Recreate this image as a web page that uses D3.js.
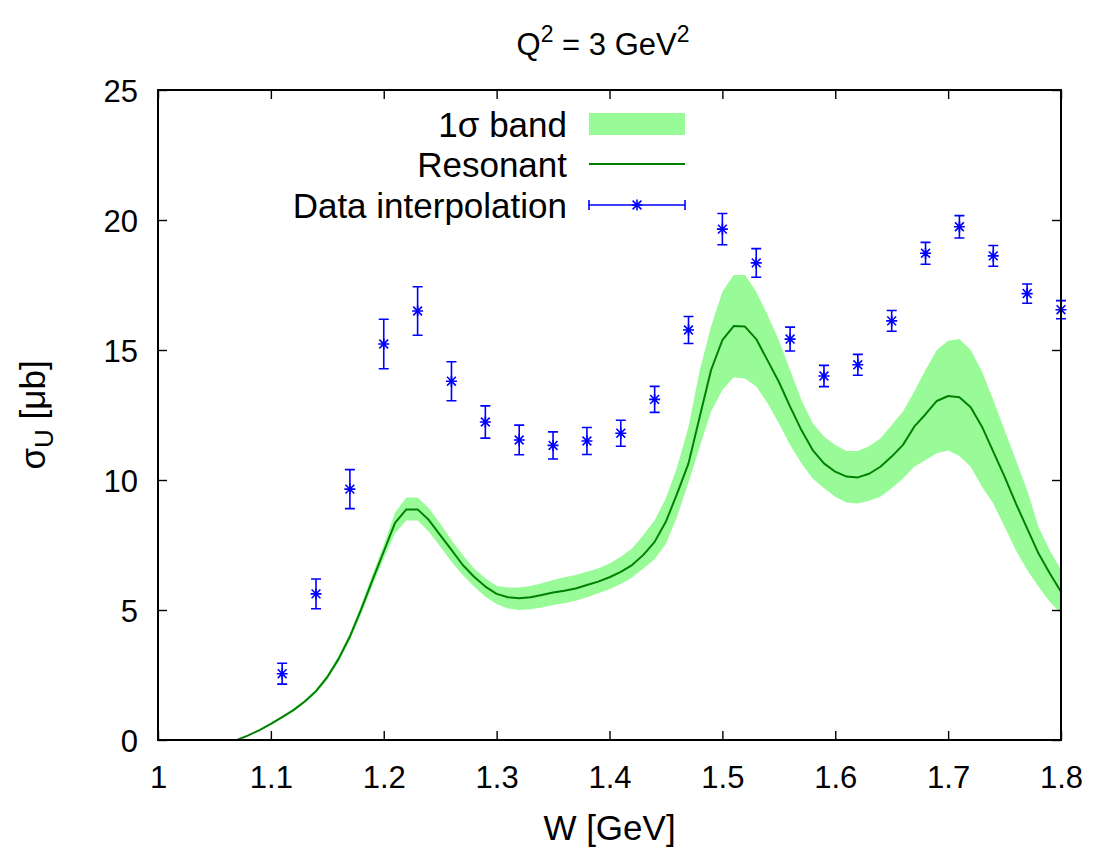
<!DOCTYPE html>
<html><head><meta charset="utf-8">
<script src="https://cdn.jsdelivr.net/npm/d3@7"></script>
<style>
body{margin:0;background:#fff}
svg{display:block}
text{font-family:"Liberation Sans",Arial,Helvetica,sans-serif;fill:#000}
</style>
</head><body>
<svg id="chart" width="1093" height="852"></svg>
<script>
// ---------------- data ----------------
const xTicks = [1, 1.1, 1.2, 1.3, 1.4, 1.5, 1.6, 1.7, 1.8];
const yTicks = [0, 5, 10, 15, 20, 25];
const legendLabels = ["1σ band", "Resonant", "Data interpolation"];

const curveW = [1.07,1.08,1.09,1.10,1.11,1.12,1.13,1.14,1.15,1.16,1.17,1.18,1.19,1.20,
  1.21,1.22,1.23,1.24,1.25,1.26,1.27,1.28,1.29,1.30,1.31,1.32,1.33,1.34,1.35,1.36,1.37,
  1.38,1.39,1.40,1.41,1.42,1.43,1.44,1.45,1.46,1.47,1.48,1.49,1.50,1.51,1.52,1.53,1.54,
  1.55,1.56,1.57,1.58,1.59,1.60,1.61,1.62,1.63,1.64,1.65,1.66,1.67,1.68,1.69,1.70,1.71,
  1.72,1.73,1.74,1.75,1.76,1.77,1.78,1.79,1.80];
const resonant = [0.00,0.18,0.38,0.62,0.88,1.15,1.48,1.88,2.42,3.12,3.98,5.02,6.15,7.25,
  8.35,8.87,8.87,8.46,7.88,7.31,6.73,6.28,5.90,5.62,5.49,5.45,5.49,5.58,5.67,5.74,5.83,
  5.96,6.09,6.26,6.47,6.73,7.12,7.62,8.40,9.49,10.64,12.44,14.23,15.38,15.92,15.90,15.42,14.60,
  13.78,12.82,11.92,11.15,10.64,10.32,10.13,10.10,10.24,10.51,10.90,11.35,12.05,12.53,13.04,13.23,13.18,
  12.80,12.05,11.09,10.13,9.10,8.14,7.18,6.41,5.70];
const bandLow = [0.00,0.17,0.36,0.59,0.84,1.10,1.42,1.81,2.33,3.01,3.85,4.85,5.93,6.98,
  7.95,8.44,8.44,8.01,7.44,6.86,6.35,5.90,5.51,5.23,5.06,5.00,5.03,5.10,5.19,5.26,5.36,
  5.49,5.64,5.80,6.00,6.25,6.60,6.95,7.55,8.60,9.90,11.28,12.63,13.46,13.95,13.90,13.60,12.95,
  12.18,11.35,10.64,10.06,9.68,9.36,9.13,9.10,9.20,9.36,9.68,10.06,10.51,10.77,11.03,11.13,10.92,
  10.51,9.74,9.10,8.20,7.30,6.54,5.90,5.32,4.87];
const bandHigh = [0.00,0.19,0.40,0.65,0.92,1.20,1.54,1.95,2.51,3.23,4.11,5.19,6.37,7.50,
  8.75,9.33,9.33,8.91,8.33,7.69,7.12,6.60,6.22,5.92,5.87,5.87,5.92,6.03,6.15,6.26,6.35,
  6.47,6.60,6.79,7.05,7.37,7.88,8.45,9.30,10.51,12.05,14.23,15.90,17.24,17.88,17.88,17.24,16.35,
  15.38,14.23,13.08,12.18,11.67,11.35,11.12,11.12,11.30,11.60,12.12,12.63,13.40,14.23,15.00,15.36,15.42,
  15.00,14.17,13.08,11.92,10.77,9.62,8.20,7.30,6.54];

const dataW = [1.11,1.14,1.17,1.20,1.23,1.26,1.29,1.32,1.35,1.38,1.41,1.44,
  1.47,1.50,1.53,1.56,1.59,1.62,1.65,1.68,1.71,1.74,1.77,1.80];
const dataSigma = [2.55,5.62,9.65,15.23,16.50,13.80,12.23,11.54,11.33,11.50,11.80,13.10,
  15.77,19.65,18.35,15.42,14.00,14.43,16.12,18.72,19.74,18.62,17.17,16.55];
const dataErr = [0.40,0.57,0.75,0.95,0.93,0.75,0.62,0.57,0.52,0.52,0.50,0.50,
  0.52,0.60,0.55,0.46,0.41,0.40,0.40,0.42,0.43,0.40,0.37,0.35];

// ---------------- chart ----------------
const svg = d3.select("#chart");
const pL = 158, pR = 1061, pT = 90, pB = 740;
const x = d3.scaleLinear().domain([1, 1.8]).range([pL, pR]);
const y = d3.scaleLinear().domain([0, 25]).range([pB, pT]);

const BAND = "#98fb98", LINE = "#008000", BLUE = "#0000ff";

// band
const curvePts = curveW.map((w, i) => ({w, r: resonant[i], lo: bandLow[i], hi: bandHigh[i]}));
svg.append("path").datum(curvePts)
  .attr("fill", BAND).attr("stroke", "none")
  .attr("d", d3.area().x(d => x(d.w)).y0(d => y(d.lo)).y1(d => y(d.hi)));

// resonant line
svg.append("path").datum(curvePts)
  .attr("fill", "none").attr("stroke", LINE).attr("stroke-width", 2)
  .attr("stroke-linejoin", "round")
  .attr("d", d3.line().x(d => x(d.w)).y(d => y(d.r)));

// star marker path generator
function star(cx, cy, s) {
  const d = s * 0.8;
  return `M${cx - s},${cy}H${cx + s}M${cx},${cy - s}V${cy + s}` +
         `M${cx - d},${cy - d}L${cx + d},${cy + d}M${cx - d},${cy + d}L${cx + d},${cy - d}`;
}

// data with error bars
const pts = dataW.map((w, i) => ({w, v: dataSigma[i], e: dataErr[i]}));
const g = svg.append("g").attr("stroke", BLUE).attr("stroke-width", 1.6).attr("fill", "none");
pts.forEach(p => {
  const cx = x(p.w), y1 = y(p.v + p.e), y0 = y(p.v - p.e), cap = 5;
  g.append("path").attr("d",
    `M${cx},${y0}V${y1}M${cx - cap},${y0}H${cx + cap}M${cx - cap},${y1}H${cx + cap}`);
  g.append("path").attr("d", star(cx, y(p.v), 5.5));
});

// axes (ticks inward, mirrored)
const tickStyle = sel => {
  sel.select(".domain").remove();
  sel.selectAll(".tick line").attr("stroke", "#000").attr("stroke-width", 1.4);
};
const fmtX = d => d3.format(".1~f")(d);

const ax = svg.append("g").attr("transform", `translate(0,${pB})`)
  .call(d3.axisBottom(x).tickValues(xTicks).tickSize(-9).tickPadding(26).tickFormat(fmtX));
tickStyle(ax);
ax.selectAll("text").attr("font-size", 31).attr("font-family", '"Liberation Sans",Arial,sans-serif').attr("fill", "#000");

svg.append("g").attr("transform", `translate(0,${pT})`)
  .call(d3.axisTop(x).tickValues(xTicks).tickSize(-9).tickFormat(""))
  .call(tickStyle);

const ay = svg.append("g").attr("transform", `translate(${pL},0)`)
  .call(d3.axisLeft(y).tickValues(yTicks).tickSize(-9).tickPadding(20));
tickStyle(ay);
ay.selectAll("text").attr("font-size", 31).attr("dy", "0.38em").attr("font-family", '"Liberation Sans",Arial,sans-serif').attr("fill", "#000");

svg.append("g").attr("transform", `translate(${pR},0)`)
  .call(d3.axisRight(y).tickValues(yTicks).tickSize(-9).tickFormat(""))
  .call(tickStyle);

// border
svg.append("rect").attr("x", pL).attr("y", pT)
  .attr("width", pR - pL).attr("height", pB - pT)
  .attr("fill", "none").attr("stroke", "#000").attr("stroke-width", 2);

// title
const t = svg.append("text").attr("x", 603).attr("y", 55)
  .attr("text-anchor", "middle").attr("font-size", 31);
t.append("tspan").text("Q");
t.append("tspan").attr("font-size", 23).attr("dy", -13).text("2");
t.append("tspan").attr("dy", 13).text(" = 3 GeV");
t.append("tspan").attr("font-size", 23).attr("dy", -13).text("2");

// x label
svg.append("text").attr("x", (pL + pR) / 2).attr("y", 840)
  .attr("text-anchor", "middle").attr("font-size", 35).text("W [GeV]");

// y label
const yl = svg.append("text").attr("transform", `translate(45,${(pT + pB) / 2}) rotate(-90)`)
  .attr("text-anchor", "middle").attr("font-size", 35);
yl.append("tspan").text("σ");
yl.append("tspan").attr("font-size", 26).attr("dy", 8).text("U");
yl.append("tspan").attr("dy", -8).text(" [μb]");

// legend
const lx0 = 589, lx1 = 685, textX = 567;
const rows = [124, 164, 205];
legendLabels.forEach((lab, i) => {
  svg.append("text").attr("x", textX).attr("y", rows[i] + 13)
    .attr("text-anchor", "end").attr("font-size", 35).text(lab);
});
svg.append("rect").attr("x", lx0).attr("y", rows[0] - 11).attr("width", lx1 - lx0).attr("height", 22)
  .attr("fill", BAND);
svg.append("line").attr("x1", lx0).attr("x2", lx1).attr("y1", rows[1]).attr("y2", rows[1])
  .attr("stroke", LINE).attr("stroke-width", 2);
svg.append("path").attr("stroke", BLUE).attr("stroke-width", 1.6).attr("fill", "none")
  .attr("d", `M${lx0},${rows[2]}H${lx1}M${lx0},${rows[2] - 5}V${rows[2] + 5}M${lx1},${rows[2] - 5}V${rows[2] + 5}`);
svg.append("path").attr("stroke", BLUE).attr("stroke-width", 1.6).attr("fill", "none")
  .attr("d", star((lx0 + lx1) / 2, rows[2], 5.5));
</script>
</body></html>
